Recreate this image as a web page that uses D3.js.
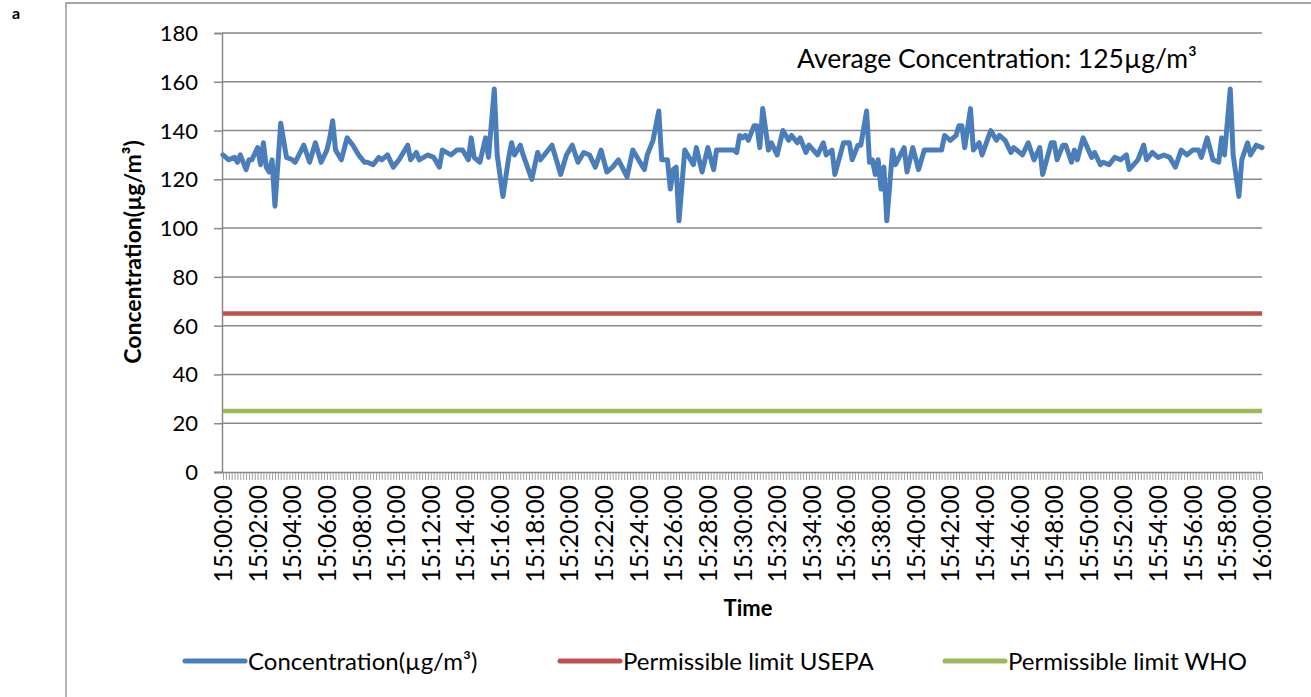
<!DOCTYPE html>
<html>
<head>
<meta charset="utf-8">
<script src="https://cdn.jsdelivr.net/npm/d3@7"></script>
<style>
  body { margin: 0; background: #fff; }
  svg { display: block; }
  text { font-family: Lato, "Open Sans", sans-serif; fill: #000; }
</style>
</head>
<body>
<svg width="1311" height="697"></svg>
<script>
// seconds after 15:00:00 and the reading at that moment
const sampleSeconds = [
  0, 20, 40, 50, 60, 80, 90, 100, 120, 130, 140, 150, 160, 170, 180, 200, 220, 240, 250, 280,
  300, 320, 340, 360, 370, 380, 390, 410, 430, 450, 470, 490, 500, 520, 540, 550, 570, 590,
  610, 640, 650, 670, 680, 710, 730, 750, 760, 790, 810, 830, 850, 860, 870, 890,
  910, 920, 940, 950, 970, 990, 1000, 1010, 1030, 1040, 1070, 1090, 1100, 1120, 1140, 1150, 1170, 1190,
  1210, 1230, 1250, 1270, 1290, 1310, 1330, 1350, 1370, 1400, 1420, 1450, 1460, 1470, 1490,
  1510, 1520, 1540, 1550, 1560, 1570, 1580, 1600, 1610, 1630, 1640, 1660, 1680, 1700, 1710, 1770, 1780, 1790,
  1800, 1810, 1820, 1840, 1850, 1860, 1870, 1890, 1900, 1920, 1940, 1960, 1970, 1990,
  2000, 2020, 2030, 2060, 2080, 2090, 2110, 2120, 2150, 2170, 2180,
  2200, 2210, 2230, 2240, 2250, 2260, 2270, 2280, 2290, 2300, 2320, 2330, 2360, 2370, 2390,
  2410, 2430, 2490, 2500, 2520, 2540, 2550, 2560, 2570, 2590,
  2600, 2620, 2630, 2660, 2680, 2690, 2710, 2730, 2740, 2770, 2790,
  2810, 2830, 2840, 2870, 2880, 2890, 2910, 2920, 2940, 2950, 2960, 2980,
  3010, 3020, 3040, 3050, 3070, 3090, 3110, 3130, 3140, 3170, 3190,
  3200, 3220, 3240, 3260, 3280, 3300, 3320, 3340, 3360, 3380, 3390,
  3410, 3430, 3450, 3460, 3470, 3490, 3500, 3520, 3530, 3550, 3560, 3580, 3600
];
const concentration = [
  130, 128, 129, 127, 130, 124, 128, 128, 133, 126, 135, 125, 123, 128, 109, 143, 129, 128, 127, 134,
  127, 135, 127, 132, 137, 144, 132, 128, 137, 134, 130, 127, 127, 126, 129, 128, 130, 125,
  128, 134, 128, 131, 128, 130, 129, 125, 132, 130, 132, 132, 128, 137, 129, 127,
  137, 129, 157, 130, 113, 129, 135, 130, 134, 130, 120, 131, 128, 131, 134, 130, 122, 130,
  134, 127, 131, 130, 125, 132, 123, 125, 128, 121, 132, 126, 124, 130, 136,
  148, 128, 128, 116, 124, 125, 103, 132, 130, 126, 133, 123, 133, 124, 132, 132, 131, 138,
  137, 138, 136, 142, 142, 133, 149, 132, 135, 130, 140, 136, 138, 135,
  137, 131, 134, 130, 135, 130, 132, 122, 135, 135, 128,
  134, 134, 148, 127, 128, 122, 128, 116, 125, 103, 132, 126, 133, 123, 133,
  124, 132, 132, 138, 136, 138, 142, 142, 133, 149,
  132, 135, 130, 140, 136, 138, 136, 131, 133, 130, 135,
  128, 133, 122, 135, 135, 128, 134, 134, 127, 132, 128, 137,
  129, 131, 126, 127, 126, 129, 128, 130, 124, 128, 134,
  128, 131, 129, 130, 129, 125, 132, 130, 132, 132, 129,
  137, 128, 127, 137, 130, 157, 130, 113, 128, 135, 130, 134, 133
];
const usepaLimit = 65;
const whoLimit = 25;
const yTicks = [0, 20, 40, 60, 80, 100, 120, 140, 160, 180];
const timeLabels = [
  "15:00:00", "15:02:00", "15:04:00", "15:06:00", "15:08:00", "15:10:00", "15:12:00", "15:14:00",
  "15:16:00", "15:18:00", "15:20:00", "15:22:00", "15:24:00", "15:26:00", "15:28:00", "15:30:00",
  "15:32:00", "15:34:00", "15:36:00", "15:38:00", "15:40:00", "15:42:00", "15:44:00", "15:46:00",
  "15:48:00", "15:50:00", "15:52:00", "15:54:00", "15:56:00", "15:58:00", "16:00:00"
];
const seriesNames = ["Concentration(µg/m³)", "Permissible limit USEPA", "Permissible limit WHO"];
const seriesColors = ["#4a7ebb", "#c0504d", "#9bbb59"];

const svg = d3.select("svg");
const gridColor = "#898989";

// chart frame + panel letter
svg.append("path")
  .attr("d", "M66,700V3H1320")
  .attr("fill", "none").attr("stroke", gridColor).attr("stroke-width", 1.3);
svg.append("text").attr("x", 12).attr("y", 19)
  .style("font-size", "16px").style("font-weight", "bold").text("a");

const x = d3.scaleLinear().domain([0, 3600]).range([223, 1262]);
const y = d3.scaleLinear().domain([0, 180]).range([472, 33]);

// horizontal grid
svg.append("g").selectAll("line")
  .data(yTicks.filter(d => d > 0))
  .join("line")
  .attr("x1", 222).attr("x2", 1262)
  .attr("y1", d => y(d)).attr("y2", d => y(d))
  .attr("stroke", gridColor).attr("stroke-width", 1.5);

// y axis
const yAxis = svg.append("g").attr("transform", "translate(222,0)")
  .call(d3.axisLeft(y).tickValues(yTicks).tickSize(8).tickPadding(16));
yAxis.select(".domain").attr("stroke", gridColor).attr("stroke-width", 1.5);
yAxis.selectAll(".tick line").attr("stroke", gridColor).attr("stroke-width", 1.5);
yAxis.selectAll(".tick text").style("font-size", "22px").attr("dy", "0.34em");

// x axis: a minor tick per 10 s sample, labels every 2 min
const xMinor = svg.append("g").attr("transform", "translate(0,472)")
  .call(d3.axisBottom(x).tickValues(d3.range(0, 3601, 10)).tickSize(8).tickFormat(""));
xMinor.select(".domain").attr("stroke", gridColor).attr("stroke-width", 1.5)
  .attr("d", "M214,0.5H1262");
xMinor.selectAll(".tick line").attr("stroke", gridColor).attr("stroke-width", 0.8);

svg.append("g").selectAll("text")
  .data(timeLabels)
  .join("text")
  .attr("transform", (d, i) => `translate(${x(i * 120) + 9},485) rotate(-90)`)
  .attr("text-anchor", "end")
  .style("font-size", "24.5px")
  .text(d => d);

// permissible limits
const flat = d3.line().x(d => x(d[0])).y(d => y(d[1]));
svg.append("path")
  .attr("d", flat([[0, usepaLimit], [3600, usepaLimit]]))
  .attr("stroke", seriesColors[1]).attr("stroke-width", 4.5).attr("fill", "none");
svg.append("path")
  .attr("d", flat([[0, whoLimit], [3600, whoLimit]]))
  .attr("stroke", seriesColors[2]).attr("stroke-width", 4.5).attr("fill", "none");

// concentration series
const line = d3.line()
  .x((d, i) => x(sampleSeconds[i]))
  .y(d => y(d));
svg.append("path")
  .attr("d", line(concentration))
  .attr("fill", "none")
  .attr("stroke", seriesColors[0])
  .attr("stroke-width", 5)
  .attr("stroke-linejoin", "round")
  .attr("stroke-linecap", "round");

// titles
svg.append("text")
  .attr("transform", "translate(141,252) rotate(-90)")
  .attr("text-anchor", "middle")
  .style("font-size", "23px").style("font-weight", "bold")
  .text("Concentration(µg/m³)");
svg.append("text")
  .attr("x", 748).attr("y", 616)
  .attr("text-anchor", "middle")
  .style("font-size", "22px").style("font-weight", "bold")
  .text("Time");
svg.append("text")
  .attr("x", 797).attr("y", 68)
  .style("font-size", "26.5px")
  .text("Average Concentration: 125µg/m³");

// legend
const legendX = [185, 560, 945];
const legend = svg.append("g").selectAll("g")
  .data(seriesNames)
  .join("g")
  .attr("transform", (d, i) => `translate(${legendX[i]},661)`);
legend.append("line")
  .attr("x1", 0).attr("x2", 60)
  .attr("stroke", (d, i) => seriesColors[i])
  .attr("stroke-width", 5).attr("stroke-linecap", "round");
legend.append("text")
  .attr("x", 63).attr("y", 8.5)
  .style("font-size", "24px")
  .text(d => d);
</script>
</body>
</html>
